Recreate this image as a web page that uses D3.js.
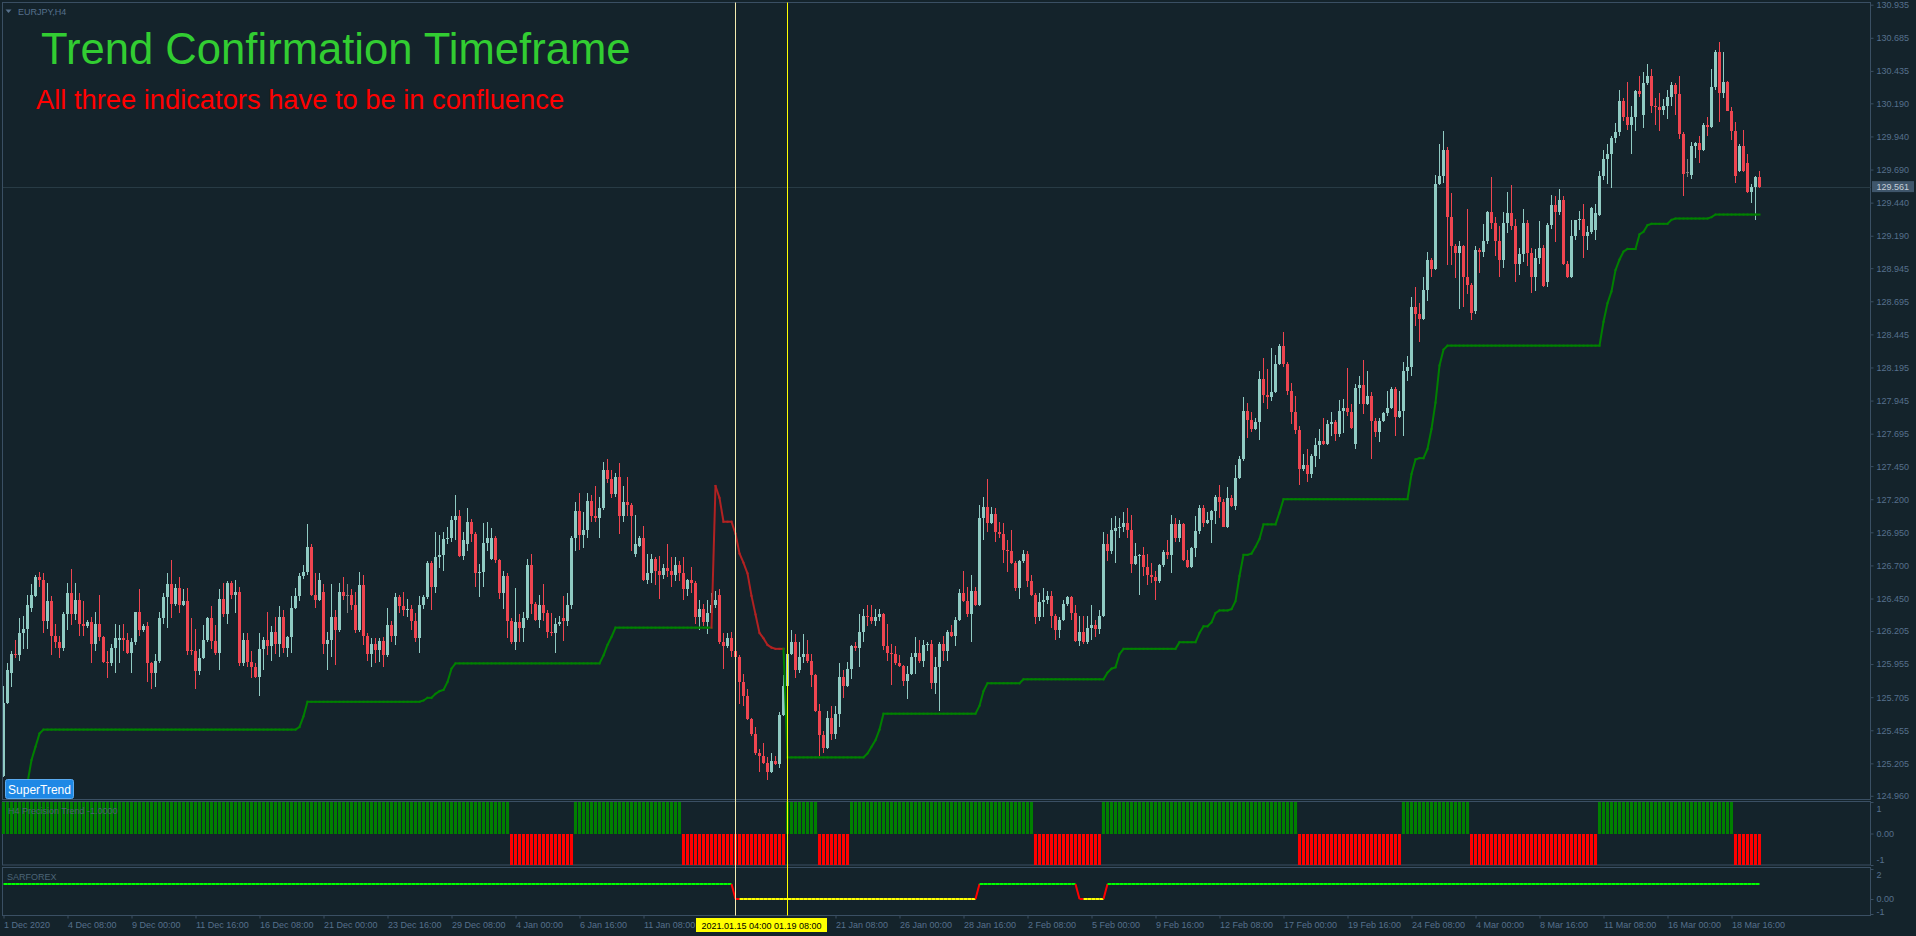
<!DOCTYPE html>
<html>
<head>
<meta charset="utf-8">
<script src="https://cdn.jsdelivr.net/npm/d3@7"></script>
<style>
  html, body { margin: 0; padding: 0; background: #14232b; overflow: hidden; }
  svg { display: block; }
</style>
</head>
<body>
<script>
// EURJPY H4 candles, 1 Dec 2020 .. 18 Mar 2021
var opens = [
125.11,125.66,125.89,126.03,126.02,126.19,126.22,126.38,126.47,126.61,
126.59,126.28,126.43,126.17,126.12,126.08,126.33,126.49,126.33,126.44,
126.26,126.24,126.27,126.11,126.26,126.16,125.97,125.96,126.08,126.14,
126.15,126.14,126.04,126.12,126.35,126.21,126.24,125.96,125.89,125.98,
126.30,126.46,126.56,126.41,126.53,126.40,126.43,126.06,126.05,125.90,
126.00,126.14,126.30,126.13,126.04,126.45,126.33,126.57,126.48,126.50,
125.96,126.14,125.97,125.93,125.86,126.07,126.14,126.09,126.20,126.11,
126.31,126.08,126.16,126.38,126.47,126.62,126.65,126.84,126.48,126.44,
126.50,126.11,126.14,126.31,126.21,126.50,126.48,126.48,126.40,126.21,
126.55,126.17,126.03,126.11,126.06,126.13,126.02,126.25,126.17,126.46,
126.39,126.36,126.37,126.28,126.15,126.40,126.46,126.72,126.54,126.76,
126.78,126.90,126.91,127.04,127.07,126.77,126.86,127.03,126.94,126.64,
126.65,126.87,126.75,126.91,126.74,126.49,126.62,126.28,126.12,126.27,
126.23,126.30,126.70,126.41,126.29,126.40,126.34,126.20,126.19,126.26,
126.30,126.28,126.40,126.91,127.11,126.93,126.97,127.19,127.07,127.06,
127.13,127.42,127.35,127.24,127.37,127.07,127.18,127.16,126.79,126.85,
126.91,126.59,126.64,126.75,126.66,126.63,126.68,126.66,126.63,126.70,
126.64,126.52,126.59,126.57,126.31,126.37,126.27,126.34,126.40,126.48,
126.12,126.09,126.15,126.05,126.01,125.82,125.71,125.54,125.43,125.28,
125.26,125.21,125.14,125.22,125.20,125.57,125.79,126.03,126.12,125.91,
126.01,126.03,125.98,125.87,125.60,125.42,125.32,125.55,125.43,125.58,
125.86,125.79,125.92,126.09,126.08,126.20,126.32,126.31,126.28,126.31,
126.33,126.09,126.04,126.03,125.96,125.94,125.83,125.88,126.01,126.04,
125.98,126.10,126.11,125.81,125.93,126.11,126.05,126.20,126.17,126.29,
126.49,126.43,126.33,126.51,126.40,127.06,127.14,127.02,127.09,126.95,
126.94,126.82,126.81,126.72,126.53,126.73,126.79,126.58,126.48,126.31,
126.42,126.44,126.47,126.32,126.21,126.29,126.41,126.46,126.34,126.13,
126.20,126.12,126.23,126.25,126.22,126.32,126.86,126.81,126.96,126.98,
126.99,127.02,126.97,126.71,126.77,126.78,126.69,126.63,126.61,126.58,
126.70,126.80,126.78,127.01,126.91,127.01,126.74,126.69,126.83,126.96,
127.13,127.02,127.04,127.11,127.22,127.18,126.99,127.21,127.15,127.36,
127.50,127.87,127.80,127.73,127.78,128.11,127.99,127.97,128.01,128.22,
128.36,128.22,128.02,127.86,127.72,127.43,127.46,127.39,127.53,127.61,
127.64,127.62,127.77,127.78,127.69,127.87,127.89,127.86,127.62,128.04,
128.06,127.92,127.98,127.79,127.71,127.79,127.85,127.89,128.03,127.82,
127.87,128.17,128.20,128.65,128.60,128.56,128.78,129.01,128.94,129.58,
129.64,129.84,129.33,129.11,129.06,129.11,128.88,128.82,128.62,129.08,
129.07,129.15,129.37,129.29,129.15,129.01,129.29,129.36,129.26,128.98,
129.05,129.29,129.06,128.88,129.02,129.10,128.84,129.27,129.42,129.37,
129.46,128.98,128.88,129.19,129.31,129.32,129.19,129.22,129.23,129.35,
129.64,129.77,129.81,129.93,129.97,130.21,130.09,130.03,130.09,130.28,
130.10,130.34,130.40,130.17,130.16,130.14,130.17,130.24,130.33,130.26,
129.96,129.67,129.65,129.87,129.89,129.84,130.03,130.01,130.31,130.58,
130.27,130.35,130.13,129.98,129.68,129.87,129.74,129.52,129.56,129.63
];
var highs = [
125.79,125.96,126.05,126.14,126.30,126.32,126.48,126.56,126.63,126.65,
126.64,126.57,126.47,126.26,126.17,126.35,126.57,126.67,126.57,126.49,
126.43,126.29,126.31,126.35,126.48,126.17,126.05,126.11,126.26,126.25,
126.26,126.19,126.15,126.35,126.52,126.26,126.27,125.97,126.03,126.35,
126.49,126.64,126.74,126.56,126.61,126.52,126.53,126.30,126.22,126.07,
126.25,126.31,126.39,126.25,126.52,126.57,126.58,126.58,126.59,126.54,
126.19,126.19,126.05,125.96,126.19,126.16,126.35,126.24,126.31,126.39,
126.36,126.17,126.47,126.53,126.64,126.70,127.01,126.86,126.64,126.64,
126.56,126.20,126.56,126.36,126.57,126.61,126.56,126.52,126.50,126.65,
126.63,126.19,126.15,126.15,126.15,126.16,126.38,126.28,126.49,126.48,
126.50,126.45,126.40,126.34,126.47,126.48,126.73,126.73,126.95,126.93,
126.95,126.99,127.07,127.23,127.12,126.95,127.13,127.05,126.95,126.71,
127.02,127.03,126.98,126.92,126.75,126.66,126.64,126.30,126.53,126.33,
126.35,126.75,126.79,126.42,126.48,126.56,126.36,126.34,126.30,126.32,
126.47,126.49,126.92,127.18,127.25,127.10,127.25,127.23,127.30,127.22,
127.48,127.50,127.42,127.40,127.47,127.30,127.37,127.17,127.08,126.92,
127.00,126.79,126.79,126.76,126.77,126.71,126.86,126.76,126.76,126.73,
126.76,126.60,126.69,126.58,126.44,126.41,126.44,126.49,126.51,126.52,
126.19,126.19,126.20,126.06,126.02,125.88,125.77,125.55,125.48,125.31,
125.36,125.25,125.28,125.26,125.59,125.87,126.05,126.21,126.18,126.12,
126.18,126.14,126.03,125.88,125.65,125.45,125.60,125.64,125.64,125.96,
125.91,125.97,126.10,126.12,126.33,126.37,126.40,126.40,126.37,126.37,
126.34,126.26,126.11,126.09,126.02,125.95,125.94,126.04,126.16,126.14,
126.14,126.12,126.14,126.01,126.12,126.17,126.21,126.25,126.31,126.52,
126.66,126.54,126.63,126.54,127.16,127.22,127.35,127.14,127.13,127.03,
127.02,126.89,126.97,126.73,126.74,126.82,126.81,126.63,126.49,126.49,
126.53,126.51,126.51,126.33,126.31,126.44,126.47,126.47,126.40,126.32,
126.32,126.32,126.40,126.29,126.36,126.95,126.94,127.06,127.07,127.06,
127.10,127.13,127.08,126.87,126.79,126.84,126.79,126.72,126.66,126.71,
126.82,126.89,127.08,127.06,127.04,127.02,126.82,126.84,127.07,127.16,
127.16,127.10,127.12,127.23,127.31,127.20,127.29,127.23,127.46,127.53,
127.97,127.93,127.86,127.81,128.17,128.27,128.18,128.34,128.29,128.37,
128.46,128.24,128.08,127.98,127.75,127.54,127.58,127.54,127.66,127.73,
127.81,127.80,127.86,127.80,127.95,127.96,128.19,127.92,128.07,128.13,
128.25,128.17,128.01,127.81,127.81,127.86,128.02,128.05,128.05,128.02,
128.24,128.28,128.73,128.80,128.68,128.88,129.07,129.02,129.65,129.88,
129.98,129.86,129.51,129.13,129.15,129.12,129.39,128.83,129.11,129.10,
129.28,129.38,129.63,129.33,129.26,129.37,129.52,129.57,129.32,129.10,
129.39,129.31,129.10,129.09,129.30,129.12,129.29,129.50,129.49,129.54,
129.49,129.00,129.31,129.31,129.38,129.43,129.26,129.41,129.43,129.68,
129.84,129.88,129.94,130.04,130.29,130.23,130.35,130.17,130.29,130.40,
130.43,130.49,130.45,130.23,130.27,130.22,130.29,130.35,130.34,130.40,
129.97,129.77,129.90,129.90,129.94,130.04,130.09,130.45,130.59,130.65,
130.58,130.36,130.16,130.05,129.88,129.99,129.81,129.58,129.64,129.68
];
var lows = [
125.10,125.65,125.78,126.00,125.98,126.07,126.07,126.35,126.46,126.54,
126.19,126.22,126.02,126.08,126.00,126.05,126.21,126.25,126.29,126.17,
126.17,126.23,125.96,126.05,126.13,125.96,125.85,125.94,125.89,125.96,
126.05,126.03,125.89,126.10,126.17,126.20,125.82,125.77,125.78,125.96,
126.26,126.23,126.30,126.39,126.34,126.39,126.02,126.02,125.77,125.87,
125.99,126.12,126.07,126.02,125.91,126.31,126.26,126.45,126.34,125.94,
125.94,125.93,125.85,125.85,125.71,125.91,126.02,125.98,126.03,126.01,
126.04,126.01,126.04,126.37,126.43,126.60,126.63,126.47,126.38,126.43,
126.03,125.91,126.01,125.95,126.20,126.44,126.34,126.36,126.19,126.20,
126.10,125.98,125.93,125.96,125.97,125.93,126.01,126.12,126.10,126.34,
126.32,126.31,126.21,126.12,126.04,126.37,126.45,126.36,126.49,126.68,
126.66,126.86,126.88,126.89,126.76,126.74,126.81,126.88,126.54,126.46,
126.54,126.81,126.74,126.72,126.45,126.37,126.15,126.11,126.06,126.12,
126.12,126.29,126.33,126.28,126.23,126.28,126.15,126.17,126.04,126.24,
126.13,126.24,126.37,126.81,126.82,126.83,126.91,127.03,127.03,126.91,
127.12,127.32,127.21,127.22,126.94,127.03,127.07,126.81,126.76,126.84,
126.58,126.56,126.57,126.55,126.45,126.60,126.61,126.54,126.58,126.58,
126.44,126.47,126.49,126.26,126.21,126.24,126.18,126.31,126.38,126.11,
125.92,126.08,126.01,126.00,125.65,125.64,125.53,125.41,125.27,125.14,
125.20,125.08,125.13,125.19,125.17,125.56,125.78,126.02,125.85,125.89,
125.96,125.96,125.78,125.59,125.26,125.28,125.31,125.38,125.39,125.48,
125.70,125.78,125.84,126.05,125.93,126.12,126.24,126.26,126.24,126.28,
126.06,125.98,125.80,125.95,125.93,125.79,125.69,125.87,125.88,125.96,
125.93,126.05,125.77,125.73,125.60,125.98,125.98,126.16,126.09,126.28,
126.42,126.31,126.12,126.39,126.39,126.89,126.95,127.01,126.88,126.91,
126.72,126.65,126.71,126.51,126.45,126.72,126.54,126.47,126.26,126.28,
126.31,126.41,126.23,126.14,126.15,126.28,126.39,126.29,126.12,126.09,
126.11,126.11,126.14,126.16,126.18,126.31,126.73,126.79,126.72,126.91,
126.95,126.91,126.64,126.70,126.48,126.62,126.55,126.57,126.44,126.57,
126.69,126.75,126.64,126.88,126.88,126.73,126.68,126.68,126.76,126.94,
126.99,127.01,126.87,127.01,127.06,126.99,126.98,127.14,127.12,127.35,
127.49,127.66,127.71,127.72,127.65,127.93,127.88,127.94,128.00,128.21,
128.20,127.99,127.77,127.69,127.31,127.41,127.33,127.36,127.44,127.50,
127.61,127.61,127.68,127.64,127.67,127.70,127.83,127.73,127.58,127.92,
127.84,127.91,127.50,127.67,127.63,127.78,127.83,127.88,127.68,127.81,
127.68,128.09,128.13,128.51,128.39,128.55,128.70,128.88,128.93,129.57,
129.59,128.97,128.97,128.87,128.64,128.65,128.75,128.55,128.60,128.91,
129.03,129.13,129.24,129.04,128.88,128.95,129.21,129.23,128.84,128.89,
128.99,128.96,128.76,128.77,128.98,128.80,128.80,129.24,129.14,129.35,
128.97,128.87,128.87,129.16,129.23,129.02,129.08,129.20,129.16,129.34,
129.61,129.58,129.55,129.89,129.94,130.06,129.99,129.81,129.98,130.24,
130.00,130.33,130.12,130.03,129.98,130.10,130.07,130.17,130.10,129.92,
129.49,129.63,129.62,129.78,129.74,129.83,129.94,130.00,130.29,130.05,
130.23,130.13,129.91,129.59,129.67,129.67,129.51,129.44,129.31,129.55
];
var closes = [
125.66,125.91,126.03,126.02,126.19,126.22,126.40,126.48,126.61,126.59,
126.28,126.43,126.17,126.12,126.08,126.33,126.49,126.33,126.44,126.26,
126.24,126.27,126.11,126.26,126.16,125.97,125.96,126.08,126.15,126.15,
126.14,126.04,126.12,126.35,126.21,126.24,125.96,125.89,125.98,126.30,
126.46,126.56,126.41,126.53,126.40,126.43,126.05,126.05,125.90,126.00,
126.14,126.30,126.13,126.04,126.45,126.33,126.57,126.48,126.50,125.96,
126.14,125.97,125.93,125.86,126.07,126.14,126.09,126.20,126.11,126.31,
126.08,126.16,126.38,126.47,126.62,126.65,126.84,126.48,126.44,126.59,
126.11,126.14,126.31,126.21,126.50,126.47,126.48,126.40,126.21,126.55,
126.17,126.03,126.11,126.06,126.13,126.02,126.25,126.17,126.46,126.39,
126.36,126.37,126.28,126.15,126.40,126.46,126.72,126.54,126.76,126.78,
126.90,126.91,127.04,127.07,126.77,126.89,127.03,126.94,126.64,126.65,
126.87,126.91,126.91,126.74,126.49,126.62,126.28,126.12,126.27,126.23,
126.30,126.70,126.41,126.29,126.40,126.34,126.20,126.19,126.26,126.27,
126.28,126.40,126.91,127.11,126.93,126.97,127.19,127.07,127.06,127.13,
127.42,127.35,127.24,127.37,127.07,127.18,127.16,127.07,126.86,126.91,
126.59,126.64,126.75,126.66,126.63,126.68,126.66,126.63,126.70,126.64,
126.52,126.59,126.57,126.31,126.37,126.27,126.34,126.40,126.44,126.12,
126.09,126.15,126.05,126.01,125.82,125.71,125.54,125.43,125.28,125.26,
125.21,125.14,125.22,125.20,125.57,125.79,126.03,126.12,125.91,126.01,
126.03,125.98,125.87,125.60,125.42,125.32,125.55,125.43,125.58,125.86,
125.79,125.92,126.09,126.08,126.20,126.32,126.31,126.28,126.31,126.33,
126.09,126.04,126.03,125.96,125.94,125.83,125.88,126.01,126.04,125.98,
126.10,126.11,125.81,125.93,126.11,126.05,126.20,126.17,126.29,126.49,
126.43,126.33,126.51,126.40,127.06,127.14,127.02,127.09,126.95,126.94,
126.82,126.81,126.72,126.53,126.73,126.79,126.58,126.48,126.31,126.42,
126.44,126.47,126.32,126.21,126.29,126.41,126.46,126.34,126.13,126.20,
126.12,126.23,126.25,126.22,126.32,126.86,126.81,126.97,126.98,126.99,
127.02,126.97,126.71,126.77,126.78,126.69,126.63,126.61,126.58,126.70,
126.80,126.78,127.01,126.91,127.01,126.74,126.69,126.83,126.96,127.13,
127.02,127.04,127.11,127.22,127.18,126.99,127.21,127.15,127.36,127.50,
127.87,127.80,127.73,127.78,128.11,127.99,127.97,128.01,128.22,128.36,
128.22,128.02,127.86,127.72,127.43,127.46,127.39,127.53,127.61,127.64,
127.62,127.77,127.78,127.69,127.87,127.89,127.86,127.74,128.04,128.06,
127.92,127.98,127.79,127.71,127.79,127.85,127.89,128.03,127.82,127.87,
128.17,128.20,128.65,128.60,128.56,128.78,129.01,128.94,129.58,129.64,
129.84,129.33,129.11,129.06,129.11,128.88,128.82,128.61,129.08,129.07,
129.15,129.37,129.29,129.15,129.01,129.29,129.36,129.26,128.98,129.05,
129.29,129.06,128.88,129.02,129.10,128.81,129.27,129.42,129.37,129.46,
128.98,128.88,129.19,129.31,129.32,129.19,129.22,129.40,129.36,129.64,
129.77,129.81,129.93,129.97,130.21,130.09,130.03,130.09,130.28,130.26,
130.34,130.40,130.17,130.16,130.14,130.17,130.24,130.33,130.26,129.96,
129.66,129.67,129.87,129.89,129.84,130.03,130.01,130.31,130.58,130.27,
130.35,130.13,129.98,129.64,129.87,129.68,129.52,129.56,129.63,129.561
];

// SuperTrend line: [value, number of bars]
var superTrendRuns = [
  [null,6],[125.06,1],[125.23,1],[125.33,1],[125.43,1],[125.46,64],[125.48,1],[125.56,1],
  [125.67,29],[125.68,1],[125.70,2],[125.73,1],[125.75,1],[125.76,1],[125.82,1],[125.92,1],
  [125.96,37],[126.02,1],[126.10,1],[126.16,1],[126.23,25],
  [127.30,1],[127.21,1],[127.03,3],[126.94,1],[126.79,1],[126.72,1],[126.64,1],[126.47,1],
  [126.33,1],[126.19,1],[126.15,1],[126.10,1],[126.08,1],[126.07,3],
  [125.25,20],[125.28,1],[125.33,1],[125.38,1],[125.46,1],[125.58,24],[125.64,1],[125.75,1],
  [125.81,9],[125.84,21],[125.89,1],[125.92,1],[125.93,1],[126.03,1],[126.07,14],[126.12,5],
  [126.19,1],[126.24,2],[126.27,1],[126.34,1],[126.36,3],[126.37,1],[126.43,1],[126.62,1],
  [126.78,2],[126.79,1],[126.84,1],[126.90,1],[127.01,4],[127.10,1],[127.20,32],[127.39,1],
  [127.50,1],[127.51,2],[127.58,1],[127.73,1],[127.93,1],[128.21,1],[128.33,1],[128.36,39],
  [128.54,1],[128.68,1],[128.77,1],[128.93,1],[129.01,1],[129.07,1],[129.09,3],[129.20,1],
  [129.22,1],[129.27,1],[129.28,5],[129.31,1],[129.32,9],[129.33,1],[129.35,12]
];
// SuperTrend direction: [1 up / -1 down, number of bars]
var superTrendDirRuns = [[1,178],[-1,18],[1,244]];

// H4 Precision Trend histogram: [value, number of bars]
var precisionRuns = [[1,127],[-1,16],[1,27],[-1,26],[1,8],[-1,8],[1,46],[-1,17],[1,49],[-1,26],[1,17],[-1,32],[1,34],[-1,7]];

// SARFOREX line: [value, number of bars]
var sarRuns = [[1,183],[0,61],[1,25],[0,7],[1,164]];

var priceTicks = ["130.935","130.685","130.435","130.190","129.940","129.690","129.440","129.190",
  "128.945","128.695","128.445","128.195","127.945","127.695","127.450","127.200","126.950",
  "126.700","126.450","126.205","125.955","125.705","125.455","125.205","124.960"];
var lastPrice = 129.561;

var timeLabelBars = [0,16,32,48,64,80,96,112,128,144,160,208,224,240,256,272,288,304,320,336,352,368,384,400,416,432];
var timeLabels = ["1 Dec 2020","4 Dec 08:00","9 Dec 00:00","11 Dec 16:00","16 Dec 08:00","21 Dec 00:00",
  "23 Dec 16:00","29 Dec 08:00","4 Jan 00:00","6 Jan 16:00","11 Jan 08:00","21 Jan 08:00","26 Jan 00:00",
  "28 Jan 16:00","2 Feb 08:00","5 Feb 00:00","9 Feb 16:00","12 Feb 08:00","17 Feb 00:00","19 Feb 16:00",
  "24 Feb 08:00","4 Mar 00:00","8 Mar 16:00","11 Mar 08:00","16 Mar 00:00","18 Mar 16:00"];

var markerBars = [183, 196];
var markerText = "2021.01.15 04:00 01.19 08:00";

function expand(runs) {
  var out = [];
  runs.forEach(function(r) { for (var k = 0; k < r[1]; k++) out.push(r[0]); });
  return out;
}

var superTrend = expand(superTrendRuns);
var superDir = expand(superTrendDirRuns);
var precision = expand(precisionRuns);
var sar = expand(sarRuns);

var width = 1916, height = 936;
var bg = "#14232b", frameColor = "#3a4f63", axisText = "#56708b";
var font = "'Liberation Sans', Arial, sans-serif";
var plotRight = 1870.5;

var x = d3.scaleLinear().domain([0, opens.length - 1]).range([3.5, 1759.5]);
var y = d3.scaleLinear().domain([124.960, 130.935]).range([795.8, 4.7]);
var ySub1 = d3.scaleLinear().domain([-1, 1]).range([865, 802]);
var ySub2 = d3.scaleLinear().domain([-1, 2]).range([914, 869]);

var svg = d3.select("body").append("svg")
    .attr("width", width)
    .attr("height", height)
    .style("font-family", font);

svg.append("rect").attr("width", width).attr("height", height).attr("fill", bg);

svg.append("clipPath").attr("id", "mainClip")
  .append("rect").attr("x", 3).attr("y", 3).attr("width", plotRight - 3.5).attr("height", 796);

// panel frames
[[2.5, 799.5], [801.5, 865], [867.5, 915.5]].forEach(function(p) {
  svg.append("rect")
      .attr("x", 2.5).attr("y", p[0])
      .attr("width", plotRight - 2.5).attr("height", p[1] - p[0])
      .attr("fill", "none").attr("stroke", frameColor).attr("stroke-width", 1);
});

// last price line
svg.append("line")
    .attr("x1", 3).attr("x2", plotRight)
    .attr("y1", Math.round(y(lastPrice)) + 0.5).attr("y2", Math.round(y(lastPrice)) + 0.5)
    .attr("stroke", "#283b45");

var main = svg.append("g").attr("clip-path", "url(#mainClip)");

// candles
var bars = d3.range(opens.length);
function candleColor(i) {
  if (closes[i] > opens[i]) return "#90cbc3";
  if (closes[i] < opens[i]) return "#ef4550";
  return "#808080";
}

main.selectAll("rect.wick")
    .data(bars)
  .enter().append("rect")
    .attr("class", "wick")
    .attr("shape-rendering", "crispEdges")
    .attr("x", function(i) { return x(i) - 0.5; })
    .attr("width", 1)
    .attr("y", function(i) { return y(highs[i]); })
    .attr("height", function(i) { return Math.max(1, y(lows[i]) - y(highs[i])); })
    .attr("fill", candleColor);

main.selectAll("rect.body")
    .data(bars)
  .enter().append("rect")
    .attr("class", "body")
    .attr("shape-rendering", "crispEdges")
    .attr("x", function(i) { return x(i) - 1.5; })
    .attr("width", 3)
    .attr("y", function(i) { return y(Math.max(opens[i], closes[i])); })
    .attr("height", function(i) { return Math.max(1, Math.abs(y(opens[i]) - y(closes[i]))); })
    .attr("fill", candleColor);

// supertrend
main.selectAll("line.st")
    .data(bars.filter(function(i) { return i > 0 && superTrend[i] != null && superTrend[i - 1] != null; }))
  .enter().append("line")
    .attr("class", "st")
    .attr("x1", function(i) { return x(i - 1); })
    .attr("x2", function(i) { return x(i); })
    .attr("y1", function(i) { return y(superTrend[i - 1]); })
    .attr("y2", function(i) { return y(superTrend[i]); })
    .attr("stroke", function(i) { return superDir[i] > 0 ? "#008000" : "#b22222"; })
    .attr("stroke-width", 2)
    .attr("stroke-linecap", "square");

// precision trend histogram
svg.selectAll("rect.prec")
    .data(bars)
  .enter().append("rect")
    .attr("class", "prec")
    .attr("shape-rendering", "crispEdges")
    .attr("x", function(i) { return x(i) - 1.5; })
    .attr("width", 3)
    .attr("y", function(i) { return precision[i] > 0 ? ySub1(1) : ySub1(0); })
    .attr("height", function(i) { return precision[i] > 0 ? ySub1(0) - ySub1(1) : ySub1(-1) - ySub1(0); })
    .attr("fill", function(i) { return precision[i] > 0 ? "#008000" : "#ff0000"; });

svg.append("text")
    .attr("x", 8).attr("y", 814)
    .attr("font-size", 9).attr("fill", "#4a6270")
    .text("H4 Precision Trend -1.0000");

// SARFOREX line
function sarColor(i) {
  if (sar[i - 1] !== sar[i]) return "#ff0000";
  if (i > 1 && sar[i - 2] !== sar[i - 1] && sar[i - 1] === 0) return "#ff0000";
  return sar[i] === 1 ? "#00ff00" : "#ffff00";
}
svg.selectAll("line.sar")
    .data(bars.filter(function(i) { return i > 0; }))
  .enter().append("line")
    .attr("class", "sar")
    .attr("x1", function(i) { return x(i - 1); })
    .attr("x2", function(i) { return x(i); })
    .attr("y1", function(i) { return ySub2(sar[i - 1]); })
    .attr("y2", function(i) { return ySub2(sar[i]); })
    .attr("stroke", sarColor)
    .attr("stroke-width", 2);

svg.append("text")
    .attr("x", 7).attr("y", 880)
    .attr("font-size", 9).attr("fill", "#4d6577")
    .text("SARFOREX");

// vertical marker lines
svg.selectAll("line.marker")
    .data(markerBars)
  .enter().append("line")
    .attr("class", "marker")
    .attr("x1", function(d) { return x(d); })
    .attr("x2", function(d) { return x(d); })
    .attr("y1", 2.5).attr("y2", 915.5)
    .attr("stroke", function(d, i) { return i === 0 ? "#f3ebb0" : "#ffff00"; })
    .attr("stroke-width", 1);

// price axis
var yAxis = d3.axisRight(y)
    .tickValues(priceTicks.map(Number))
    .tickFormat(function(d, i) { return priceTicks[i]; })
    .tickSize(3);

var gy = svg.append("g")
    .attr("transform", "translate(" + plotRight + ",0)")
    .call(yAxis);
gy.select(".domain").remove();
gy.selectAll("line").attr("stroke", frameColor);
gy.selectAll("text").attr("fill", axisText).attr("font-size", 9).attr("font-family", font);

// last price box
var lp = y(lastPrice);
svg.append("rect")
    .attr("x", 1872).attr("y", lp - 5.5).attr("width", 42).attr("height", 11)
    .attr("fill", "#3f566b");
svg.append("text")
    .attr("x", 1876.5).attr("y", lp + 3.3)
    .attr("font-size", 9).attr("fill", "#c4ced8")
    .text(lastPrice.toFixed(3));

// sub panel axes
function subAxis(scale, values, labels, dys) {
  var ax = d3.axisRight(scale)
      .tickValues(values)
      .tickFormat(function(d, i) { return labels[i]; })
      .tickSize(3);
  var g = svg.append("g")
      .attr("transform", "translate(" + plotRight + ",0)")
      .call(ax);
  g.select(".domain").remove();
  g.selectAll("line").attr("stroke", frameColor);
  g.selectAll("text")
      .attr("fill", axisText).attr("font-size", 9).attr("font-family", font)
      .attr("dy", function(d, i) { return dys[i]; });
}
subAxis(ySub1, [1, 0, -1], ["1", "0.00", "-1"], ["1.1em", "0.32em", "-0.25em"]);
subAxis(ySub2, [2, 0, -1], ["2", "0.00", "-1"], ["0.95em", "0.32em", "0em"]);

// time axis
var xAxis = d3.axisBottom(x)
    .tickValues(timeLabelBars)
    .tickFormat(function(d, i) { return timeLabels[i]; })
    .tickSize(3);

var gx = svg.append("g")
    .attr("transform", "translate(0,915.5)")
    .call(xAxis);
gx.select(".domain").remove();
gx.selectAll("line").attr("stroke", frameColor);
gx.selectAll("text")
    .attr("fill", axisText).attr("font-size", 9).attr("font-family", font)
    .style("text-anchor", "start");

// marker date box
var mx = (x(markerBars[0]) + x(markerBars[1])) / 2;
svg.append("rect")
    .attr("x", mx - 65.5).attr("y", 918).attr("width", 131).attr("height", 14)
    .attr("fill", "#ffff00");
svg.append("text")
    .attr("x", mx).attr("y", 928.5)
    .attr("text-anchor", "middle")
    .attr("font-size", 9).attr("fill", "#000000")
    .text(markerText);

// symbol caption
svg.append("path")
    .attr("d", "M5.5,9.5 L11.5,9.5 L8.5,13 Z")
    .attr("fill", axisText);
svg.append("text")
    .attr("x", 18).attr("y", 14.5)
    .attr("font-size", 9).attr("fill", axisText)
    .text("EURJPY,H4");

// SuperTrend button
svg.append("rect")
    .attr("x", 5.5).attr("y", 779.5).attr("width", 68).attr("height", 19).attr("rx", 2)
    .attr("fill", "#1e88e5").attr("stroke", "#5aaaf0");
svg.append("text")
    .attr("x", 39.5).attr("y", 793.5)
    .attr("text-anchor", "middle")
    .attr("font-size", 12).attr("fill", "#ffffff")
    .text("SuperTrend");

// titles
svg.append("text")
    .attr("x", 41).attr("y", 64)
    .attr("font-size", 43.6).attr("fill", "#32cd32")
    .text("Trend Confirmation Timeframe");
svg.append("text")
    .attr("x", 36).attr("y", 109)
    .attr("font-size", 27.3).attr("fill", "#ff0000")
    .text("All three indicators have to be in confluence");
</script>
</body>
</html>
